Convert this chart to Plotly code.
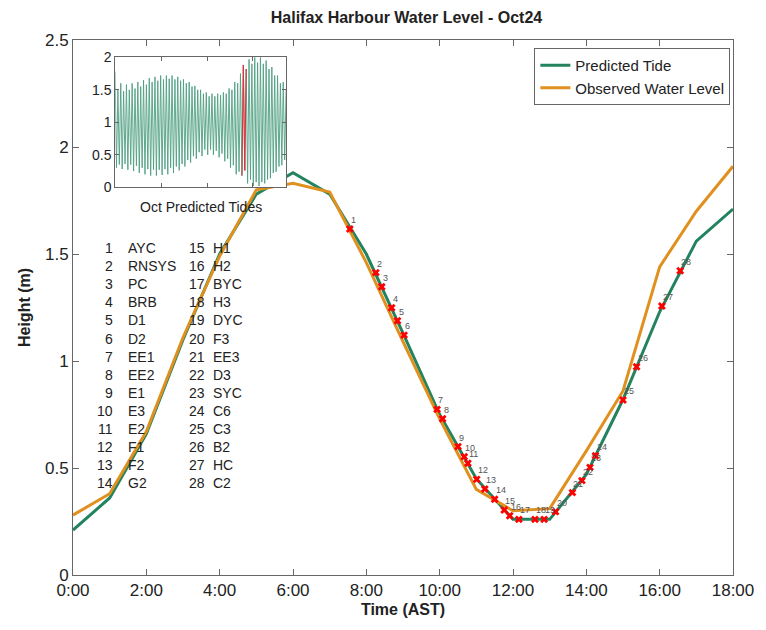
import plotly.graph_objects as go

# ---------------- data ----------------
hours = [0, 1, 2, 3, 4, 5, 6, 7, 8, 9, 10, 11, 12, 13, 14, 15, 16, 17, 18]
predicted = [0.21, 0.36, 0.66, 1.10, 1.50, 1.78, 1.88, 1.78, 1.50, 1.13, 0.75, 0.45,
             0.26, 0.26, 0.47, 0.82, 1.23, 1.56, 1.71]
observed = [0.28, 0.38, 0.67, 1.11, 1.49, 1.80, 1.83, 1.79, 1.46, 1.09, 0.73, 0.40,
            0.30, 0.31, 0.58, 0.86, 1.44, 1.70, 1.91]

station_num = list(range(1, 29))
station_names = ["AYC", "RNSYS", "PC", "BRB", "D1", "D2", "EE1", "EE2", "E1", "E3",
                 "E2", "F1", "F2", "G2", "H1", "H2", "BYC", "H3", "DYC", "F3",
                 "EE3", "D3", "SYC", "C6", "C3", "B2", "HC", "C2"]
station_time = [7.55, 8.26, 8.42, 8.69, 8.85, 9.03, 9.93, 10.08, 10.50, 10.67,
                10.77, 11.01, 11.23, 11.50, 11.76, 11.91, 12.16, 12.60, 12.85, 13.16,
                13.62, 13.88, 14.10, 14.25, 15.00, 15.37, 16.06, 16.56]
station_height = [1.617, 1.413, 1.347, 1.249, 1.188, 1.121, 0.774, 0.730, 0.600, 0.553,
                  0.522, 0.447, 0.402, 0.354, 0.304, 0.277, 0.260, 0.260, 0.260, 0.296,
                  0.385, 0.441, 0.503, 0.557, 0.818, 0.973, 1.257, 1.422]

x_tickvals = [0, 2, 4, 6, 8, 10, 12, 14, 16, 18]
x_ticktext = ["0:00", "2:00", "4:00", "6:00", "8:00", "10:00", "12:00", "14:00", "16:00", "18:00"]
y_tickvals = [0, 0.5, 1, 1.5, 2, 2.5]
y_ticktext = ["0", "0.5", "1", "1.5", "2", "2.5"]

# October predicted tide extremes (inset)
oct_highs = [1.78, 1.50, 1.60, 1.48, 1.58, 1.50, 1.60, 1.52, 1.62, 1.55,
             1.65, 1.58, 1.68, 1.62, 1.70, 1.64, 1.72, 1.66, 1.72, 1.67,
             1.72, 1.66, 1.70, 1.64, 1.66, 1.60, 1.62, 1.55, 1.56, 1.50,
             1.50, 1.44, 1.46, 1.40, 1.44, 1.40, 1.44, 1.42, 1.46, 1.44,
             1.52, 1.50, 1.62, 1.60, 1.75, 1.88, 1.82, 1.97, 1.90, 2.00,
             1.92, 2.00, 1.90, 1.95, 1.82, 1.85, 1.72, 1.72, 1.60, 1.62, 1.50]
oct_lows = [0.30, 0.35, 0.28, 0.36, 0.27, 0.35, 0.25, 0.33, 0.22, 0.30,
            0.20, 0.28, 0.18, 0.27, 0.18, 0.27, 0.19, 0.28, 0.20, 0.30,
            0.22, 0.32, 0.26, 0.36, 0.32, 0.42, 0.38, 0.48, 0.44, 0.54,
            0.48, 0.58, 0.50, 0.58, 0.50, 0.56, 0.46, 0.52, 0.40, 0.44,
            0.30, 0.34, 0.20, 0.24, 0.18, 0.26, 0.06, 0.12, 0.02, 0.08,
            0.02, 0.08, 0.06, 0.12, 0.14, 0.22, 0.24, 0.32, 0.34, 0.42]
first_high_hour = -0.9      # hour of October of the first listed high
half_tide = 6.21            # hours between a high and the following low
day_start, day_end = 552, 570   # Oct 24 0:00 - 18:00 in hours of October

# ---------------- build ----------------
GREEN = "#23835f"
ORANGE = "#e0901e"
FONT = "Liberation Sans, Arial, sans-serif"

ext_vals = []
for i in range(len(oct_highs)):
    ext_vals.append(oct_highs[i])
    if i < len(oct_lows):
        ext_vals.append(oct_lows[i])
ext_t = [first_high_hour + half_tide * k for k in range(len(ext_vals))]
red_t = [t for t in ext_t if day_start - 3 <= t <= day_end + 3]
red_v = [v for t, v in zip(ext_t, ext_vals) if day_start - 3 <= t <= day_end + 3]

fig = go.Figure()

fig.add_trace(go.Scatter(x=hours, y=predicted, mode="lines", name="Predicted Tide",
                         line=dict(color=GREEN, width=3)))
fig.add_trace(go.Scatter(x=hours, y=observed, mode="lines", name="Observed Water Level",
                         line=dict(color=ORANGE, width=3)))
fig.add_trace(go.Scatter(x=station_time, y=station_height, mode="markers",
                         marker=dict(symbol="x", size=7, color="red"),
                         showlegend=False))

# inset
fig.add_trace(go.Scatter(x=ext_t, y=ext_vals, mode="lines", xaxis="x2", yaxis="y2",
                         line=dict(color="#4f9f82", width=0.9), showlegend=False))
fig.add_trace(go.Scatter(x=red_t, y=red_v, mode="lines", xaxis="x2", yaxis="y2",
                         line=dict(color="#e0303a", width=1), showlegend=False))

W, H = 766, 630
L, R, T, B = 73, 740, 40, 575


def px(x):
    return (x - L) / (R - L)


def py(y):
    return (B - y) / (B - T)


annotations = []
# station number labels beside the markers
for n, t, h in zip(station_num, station_time, station_height):
    annotations.append(dict(x=t, y=h, xref="x", yref="y", text=str(n), showarrow=False,
                            xanchor="left", yanchor="bottom", xshift=-1, yshift=2,
                            font=dict(size=9, color="#555555", family=FONT)))
# station list
for i, (n, name) in enumerate(zip(station_num, station_names)):
    col = i // 14
    row = i % 14
    yy = py(248 + 18.1 * row)
    num_right = 115.5 if col == 0 else 208.5
    name_left = 127 if col == 0 else 212
    annotations.append(dict(x=px(num_right), y=yy, xref="paper", yref="paper",
                            text=str(n), showarrow=False, xanchor="right", yanchor="middle",
                            font=dict(size=14, color="#222222", family=FONT)))
    annotations.append(dict(x=px(name_left), y=yy, xref="paper", yref="paper",
                            text=name, showarrow=False, xanchor="left", yanchor="middle",
                            font=dict(size=14, color="#222222", family=FONT)))

annotations.append(dict(x=px(202), y=py(207), xref="paper", yref="paper",
                        text="Oct Predicted Tides", showarrow=False, xanchor="center",
                        yanchor="middle", font=dict(size=14, color="#222222", family=FONT)))

axis_common = dict(showline=True, linecolor="#666666", linewidth=1, mirror="ticks",
                   ticks="inside", ticklen=6, tickcolor="#666666", showgrid=False,
                   zeroline=False)

fig.update_layout(
    width=W, height=H,
    margin=dict(l=L, r=W - R, t=T, b=H - B),
    paper_bgcolor="white", plot_bgcolor="white",
    font=dict(family=FONT, color="#222222"),
    title=dict(text="<b>Halifax Harbour Water Level - Oct24</b>", x=(L + R) / 2 / W,
               xanchor="center", y=1 - 17 / H, yanchor="middle", yref="container",
               font=dict(size=16, family=FONT, color="#222222")),
    xaxis=dict(range=[0, 18], tickvals=x_tickvals, ticktext=x_ticktext,
               tickfont=dict(size=17), title=dict(text="<b>Time (AST)</b>",
                                                  font=dict(size=16), standoff=4),
               **axis_common),
    yaxis=dict(range=[0, 2.5], tickvals=y_tickvals, ticktext=y_ticktext,
               tickfont=dict(size=17), title=dict(text="<b>Height (m)</b>",
                                                  font=dict(size=16), standoff=10),
               **axis_common),
    xaxis2=dict(domain=[px(115.7), px(288.3)], anchor="y2", range=[0, 744],
                tickvals=[200, 400, 600], showticklabels=False, **axis_common),
    yaxis2=dict(domain=[py(187.3), py(57.3)], anchor="x2", range=[0, 2],
                tickvals=[0, 0.5, 1, 1.5, 2], ticktext=["0", "0.5", "1", "1.5", "2"],
                tickfont=dict(size=14), **axis_common),
    legend=dict(x=0.996, y=0.985, xanchor="right", yanchor="top",
                bordercolor="#666666", borderwidth=1, bgcolor="white",
                font=dict(size=15, color="#222222"), tracegroupgap=0),
    annotations=annotations,
    showlegend=True,
)
fig.layout.xaxis2.ticklen = 4
fig.layout.yaxis2.ticklen = 4

fig.write_html("out.html")
